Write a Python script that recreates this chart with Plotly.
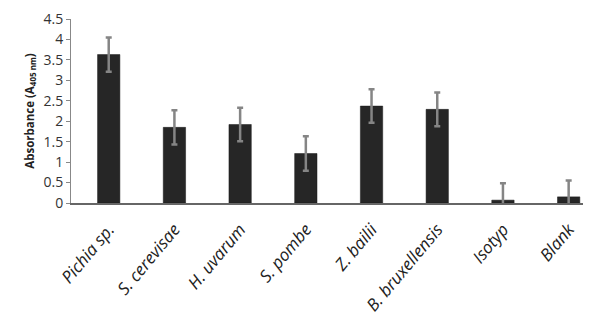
import plotly.graph_objects as go

categories = ["Pichia sp.", "S. cerevisae", "H. uvarum", "S. pombe", "Z. bailii",
              "B. bruxellensis", "Isotyp", "Blank"]
absorbance = [3.63, 1.85, 1.92, 1.21, 2.37, 2.29, 0.07, 0.15]
error = [0.42, 0.42, 0.41, 0.42, 0.41, 0.41, 0.41, 0.40]
y_ticks = [0, 0.5, 1, 1.5, 2, 2.5, 3, 3.5, 4, 4.5]
y_tick_labels = ["0", "0.5", "1", "1.5", "2", "2.5", "3", "3.5", "4", "4.5"]

fig = go.Figure(go.Bar(
    x=list(range(len(categories))),
    y=absorbance,
    marker=dict(color="#262626", line=dict(color="#1a1a1a", width=0.5)),
    error_y=dict(type="data", array=error, visible=True, color="#858585",
                 thickness=2.5, width=3),
    width=0.34,
))

# page body has an 8px default margin, so the figure is offset by 8px
fig.update_layout(
    width=583, height=319,
    margin=dict(l=63, r=0, t=11, b=124, autoexpand=False),
    paper_bgcolor="white", plot_bgcolor="white",
    showlegend=False,
    font=dict(family="Open Sans, sans-serif", color="#333333"),
    xaxis=dict(
        range=[-0.574, 7.34], automargin=False,
        tickmode="array", tickvals=list(range(len(categories))),
        ticktext=[f"<i>{c}</i>" for c in categories],
        tickangle=-50, tickfont=dict(size=17, color="#222222"),
        ticklabelstandoff=8,
        showline=True, linecolor="#666666", linewidth=1.5,
        showgrid=False, zeroline=False, ticks="",
    ),
    yaxis=dict(
        range=[0, 4.5], automargin=False,
        tickmode="array", tickvals=y_ticks, ticktext=y_tick_labels,
        tickfont=dict(size=14, color="#333333"),
        showline=True, linecolor="#888888", linewidth=1,
        ticks="outside", ticklen=4, tickcolor="#888888",
        showgrid=False, zeroline=False,
        title=dict(text="<b>Absorbance (A<sub>405 nm</sub>)</b>",
                   font=dict(size=11.5, color="#222222"), standoff=6),
    ),
)

fig.write_html("out.html")
